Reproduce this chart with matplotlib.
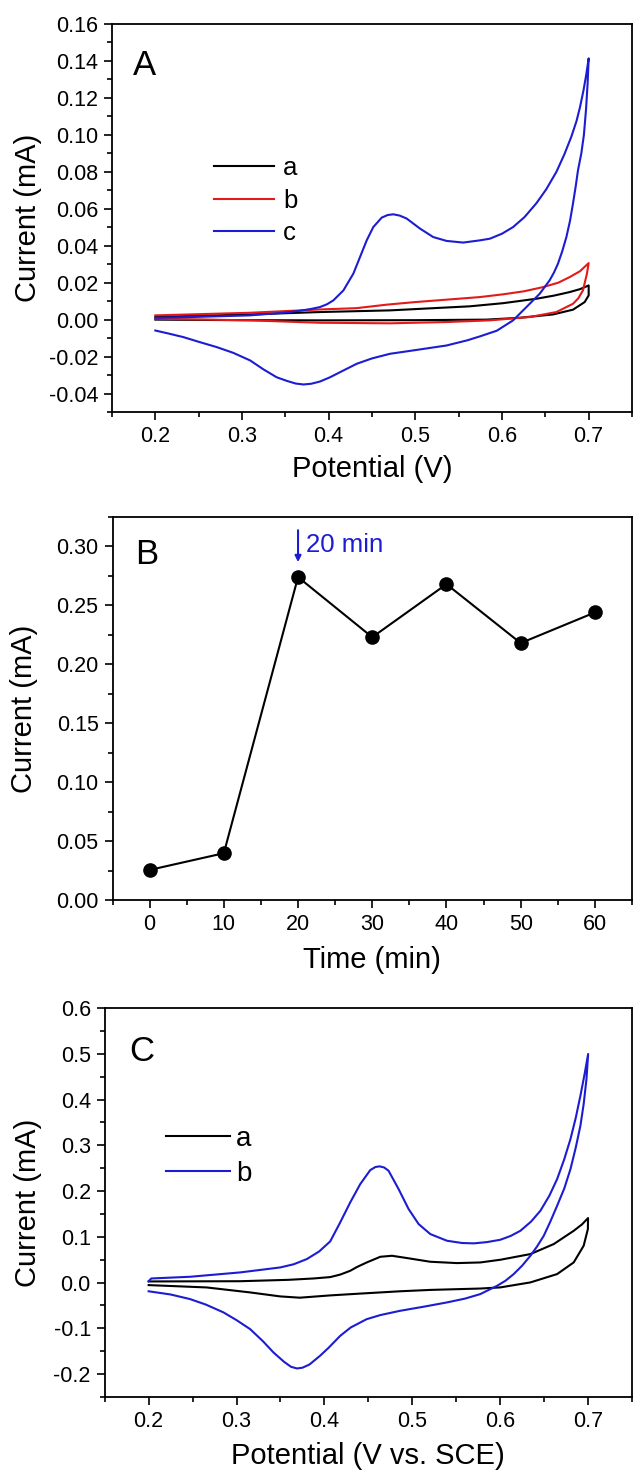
import numpy as np
import matplotlib
matplotlib.use("Agg")
import matplotlib.pyplot as plt
from matplotlib.ticker import MultipleLocator

plt.rcParams['font.family'] = ['Liberation Sans', 'DejaVu Sans']

BLUE = '#1c1cd2'
RED = '#e31a1a'

# Panel A: cyclic voltammograms (forward sweep then reverse sweep)
a_A_V = [0.200, 0.309, 0.390, 0.4707, 0.5629, 0.6013, 0.6397, 0.660, 0.678, 0.690, 0.700,
         0.700, 0.6954, 0.682, 0.6589, 0.6205, 0.5821, 0.500, 0.390, 0.300, 0.200]
a_A_I = [0.0015, 0.0028, 0.0041, 0.0050, 0.0072, 0.0089, 0.0113, 0.0130, 0.0149, 0.0165, 0.0185,
         0.0131, 0.0095, 0.0054, 0.0028, 0.0010, 0.0000, -0.0003, -0.0004, -0.0003, 0.0000]

b_A_V = [0.200, 0.309, 0.390, 0.432, 0.467, 0.500, 0.536, 0.5744, 0.6013, 0.625, 0.6474, 0.665, 0.678, 0.690, 0.700,
         0.698, 0.6934, 0.688, 0.682, 0.6628, 0.632, 0.586, 0.536, 0.471, 0.390, 0.309, 0.200]
b_A_I = [0.0023, 0.0037, 0.0055, 0.0062, 0.0081, 0.0095, 0.0108, 0.0122, 0.0137, 0.0153, 0.0176, 0.0200, 0.0230, 0.0262, 0.0306,
         0.0249, 0.0158, 0.0115, 0.0086, 0.0041, 0.0014, -0.0004, -0.0013, -0.0020, -0.0017, -0.0004, 0.0005]

c_A_V = [0.200, 0.250, 0.309, 0.350, 0.367, 0.380, 0.390, 0.398, 0.4054, 0.417, 0.4285, 0.4362, 0.4439, 0.4515, 0.4612,
         0.468, 0.4746, 0.482, 0.490, 0.5053, 0.5206, 0.536, 0.5552, 0.5744, 0.586, 0.600, 0.6128, 0.626, 0.6397, 0.651,
         0.6628, 0.672, 0.680, 0.686, 0.690, 0.694, 0.697, 0.700,
         0.6988, 0.697, 0.6945, 0.6915, 0.6877, 0.685, 0.6819, 0.6785, 0.6743, 0.6695, 0.6646, 0.660, 0.655,
         0.6435, 0.6282, 0.6128, 0.594, 0.575, 0.560, 0.536, 0.500, 0.4707, 0.450, 0.4324, 0.415, 0.4016,
         0.390, 0.380, 0.371, 0.362, 0.352, 0.340, 0.325, 0.3094, 0.290, 0.271, 0.250, 0.2326, 0.215, 0.200]
c_A_I = [0.0010, 0.0015, 0.0023, 0.0038, 0.0048, 0.0058, 0.0068, 0.0083, 0.0104, 0.0158, 0.0249, 0.0339, 0.0429, 0.0501, 0.0552,
         0.0566, 0.0570, 0.0563, 0.0547, 0.0493, 0.0447, 0.0426, 0.0417, 0.0429, 0.0438, 0.0465, 0.0501, 0.0555, 0.0630, 0.0705,
         0.0800, 0.0895, 0.0990, 0.1075, 0.1150, 0.1240, 0.1320, 0.1414,
         0.1280, 0.1140, 0.1000, 0.0899, 0.0809, 0.0720, 0.0628, 0.0535, 0.0447, 0.0370, 0.0303, 0.0255, 0.0213,
         0.0140, 0.0068, -0.0004, -0.0060, -0.0090, -0.0112, -0.0140, -0.0165, -0.0185, -0.0210, -0.0239, -0.0280, -0.0312,
         -0.0335, -0.0347, -0.0351, -0.0346, -0.0332, -0.0312, -0.0270, -0.0221, -0.0180, -0.0149, -0.0120, -0.0095, -0.0075, -0.0059]

# Panel B: current vs. time
time_min = [0, 10, 20, 30, 40, 50, 60]
current_B = [0.0255, 0.0397, 0.274, 0.223, 0.268, 0.218, 0.244]

# Panel C
a_C_V = [0.200, 0.304, 0.3587, 0.3876, 0.4066, 0.418, 0.4294, 0.437, 0.4484, 0.4636, 0.4769, 0.494, 0.5205, 0.551,
         0.5774, 0.6002, 0.6344, 0.661, 0.6837, 0.693, 0.700,
         0.6998, 0.695, 0.6837, 0.6648, 0.6344, 0.6002, 0.5774, 0.5205, 0.486, 0.4636, 0.441, 0.4066, 0.372,
         0.3497, 0.3155, 0.266, 0.200]
a_C_I = [0.0025, 0.0030, 0.0060, 0.0090, 0.0120, 0.0175, 0.0258, 0.0340, 0.0442, 0.0564, 0.0586, 0.0536, 0.0455, 0.0426,
         0.0440, 0.0499, 0.0623, 0.0842, 0.1132, 0.1270, 0.1410,
         0.1170, 0.0805, 0.0441, 0.0186, 0.0004, -0.0105, -0.0130, -0.0160, -0.0190, -0.0215, -0.0240, -0.0280, -0.0330,
         -0.0302, -0.0215, -0.0106, -0.0055]

b_C_V = [0.200, 0.203, 0.247, 0.304, 0.3497, 0.365, 0.380, 0.394, 0.4066, 0.418, 0.4294, 0.4408, 0.4522, 0.458, 0.4628,
         0.468, 0.473, 0.4844, 0.4958, 0.5072, 0.5205, 0.5395, 0.5566, 0.570, 0.585, 0.6002, 0.612, 0.623, 0.635, 0.6458,
         0.656, 0.6648, 0.673, 0.680, 0.686, 0.6913, 0.696, 0.7001,
         0.6982, 0.695, 0.6913, 0.686, 0.680, 0.673, 0.6648, 0.657, 0.6496, 0.642, 0.6344, 0.625, 0.6154, 0.606,
         0.5965, 0.5774, 0.560, 0.5395, 0.515, 0.486, 0.4636, 0.448, 0.430, 0.418, 0.405, 0.395, 0.383, 0.375,
         0.3687, 0.362, 0.354, 0.342, 0.330, 0.3155, 0.300, 0.285, 0.265, 0.247, 0.225, 0.200]
b_C_I = [0.0030, 0.0090, 0.0127, 0.0222, 0.0331, 0.0400, 0.0514, 0.0680, 0.0900, 0.1316, 0.1753, 0.2153, 0.2459, 0.2525, 0.2540,
         0.2515, 0.2444, 0.2044, 0.1607, 0.1279, 0.1060, 0.0914, 0.0865, 0.0857, 0.0885, 0.0936, 0.1020, 0.1132, 0.1330, 0.1570,
         0.1900, 0.2262, 0.2700, 0.3137, 0.3600, 0.4083, 0.4550, 0.4995,
         0.4448, 0.3900, 0.3428, 0.2950, 0.2481, 0.2060, 0.1679, 0.1330, 0.1023, 0.0790, 0.0586, 0.0370, 0.0186, 0.0040,
         -0.0070, -0.0251, -0.0350, -0.0433, -0.0520, -0.0617, -0.0710, -0.0800, -0.0980, -0.1163, -0.1420, -0.1600, -0.1790, -0.1860,
         -0.1876, -0.1840, -0.1730, -0.1526, -0.1280, -0.1017, -0.0820, -0.0650, -0.0480, -0.0360, -0.0260, -0.0190]

W, H = 633, 1470
fig = plt.figure(figsize=(W / 100, H / 100), dpi=100)


def px_axes(left, top, right, bottom):
    return fig.add_axes([left / W, 1 - bottom / H, (right - left) / W, (bottom - top) / H])


def style(ax):
    for s in ax.spines.values():
        s.set_linewidth(1.3)
    ax.tick_params(which='both', direction='out', top=False, right=False, labelsize=15.5, width=1.2)
    ax.tick_params(which='major', length=6, pad=4)
    ax.tick_params(which='minor', length=3.5)


axA = px_axes(112, 24, 632, 412)
axB = px_axes(112.5, 517, 632, 900)
axC = px_axes(104.7, 1008, 632, 1397)

LW = 1.5

# A
axA.plot(a_A_V, a_A_I, color='black', lw=LW, label='a')
axA.plot(b_A_V, b_A_I, color=RED, lw=LW, label='b')
axA.plot(c_A_V, c_A_I, color=BLUE, lw=LW, label='c')
axA.set_xlim(0.15, 0.75)
axA.set_ylim(-0.05, 0.16)
axA.xaxis.set_major_locator(MultipleLocator(0.1))
axA.xaxis.set_minor_locator(MultipleLocator(0.05))
axA.yaxis.set_major_locator(MultipleLocator(0.02))
axA.yaxis.set_minor_locator(MultipleLocator(0.01))
axA.yaxis.set_major_formatter(lambda v, p: f"{v:.2f}")
axA.xaxis.set_major_formatter(lambda v, p: f"{v:.1f}")
style(axA)
axA.set_xlabel('Potential (V)', fontsize=21, va='center')
axA.xaxis.set_label_coords(0.5, -0.146)
axA.set_ylabel('Current (mA)', fontsize=21, va='center')
axA.yaxis.set_label_coords(-0.162, 0.5)
axA.text(0.04, 0.869, 'A', transform=axA.transAxes, fontsize=25)
axA.legend(loc='upper left', bbox_to_anchor=((214 - 112) / 520, 1 - (156 - 24) / 388),
           frameon=False, fontsize=18.5, borderpad=0, borderaxespad=0,
           handlelength=2.33, handletextpad=0.35, labelspacing=0.335)

# B
axB.plot(time_min, current_B, color='black', lw=LW, marker='o', ms=9.5)
axB.set_xlim(-5, 65)
axB.set_ylim(0, 0.325)
axB.xaxis.set_major_locator(MultipleLocator(10))
axB.xaxis.set_minor_locator(MultipleLocator(5))
axB.yaxis.set_major_locator(MultipleLocator(0.05))
axB.yaxis.set_minor_locator(MultipleLocator(0.025))
axB.yaxis.set_major_formatter(lambda v, p: f"{v:.2f}")
style(axB)
axB.set_xlabel('Time (min)', fontsize=21, va='center')
axB.xaxis.set_label_coords(0.5, -0.157)
axB.set_ylabel('Current (mA)', fontsize=21, va='center')
axB.yaxis.set_label_coords(-0.170, 0.5)
axB.text(0.043, 0.877, 'B', transform=axB.transAxes, fontsize=25)
axB.annotate('', xy=(20, 0.2867), xytext=(20, 0.3138),
             arrowprops=dict(arrowstyle='-|>', color=BLUE, lw=1.5, mutation_scale=9, shrinkA=0, shrinkB=0))
axB.text(21.06, 0.295, '20 min', color=BLUE, fontsize=18.5, va='baseline')

# C
axC.plot(a_C_V, a_C_I, color='black', lw=LW, label='a')
axC.plot(b_C_V, b_C_I, color=BLUE, lw=LW, label='b')
axC.set_xlim(0.15, 0.75)
axC.set_ylim(-0.25, 0.6)
axC.xaxis.set_major_locator(MultipleLocator(0.1))
axC.xaxis.set_minor_locator(MultipleLocator(0.05))
axC.yaxis.set_major_locator(MultipleLocator(0.1))
axC.yaxis.set_minor_locator(MultipleLocator(0.05))
axC.yaxis.set_major_formatter(lambda v, p: f"{v:.1f}")
axC.xaxis.set_major_formatter(lambda v, p: f"{v:.1f}")
style(axC)
axC.set_xlabel('Potential (V vs. SCE)', fontsize=21, va='center')
axC.xaxis.set_label_coords(0.5, -0.152)
axC.set_ylabel('Current (mA)', fontsize=21, va='center')
axC.yaxis.set_label_coords(-0.146, 0.5)
axC.text(0.046, 0.864, 'C', transform=axC.transAxes, fontsize=25)
axC.legend(loc='upper left', bbox_to_anchor=((166 - 104.7) / 527, 1 - (1126 - 1008) / 389),
           frameon=False, fontsize=20, borderpad=0, borderaxespad=0,
           handlelength=2.3, handletextpad=0.22, labelspacing=0.33)

fig.savefig('out.png', dpi=100)
